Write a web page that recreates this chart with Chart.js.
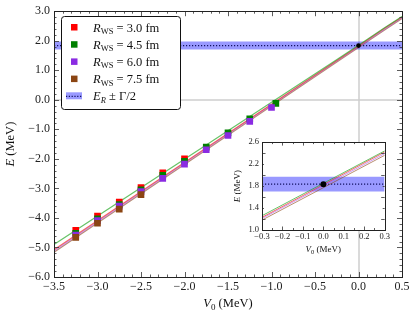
<!DOCTYPE html>
<html><head><meta charset="utf-8">
<script src="https://cdn.jsdelivr.net/npm/chart.js@4/dist/chart.umd.min.js"></script>
<style>
html,body{margin:0;padding:0;background:#fff;}
#wrap{position:relative;width:415px;height:312px;overflow:hidden;}
#main{position:absolute;left:0;top:0;}
#inset{position:absolute;left:226px;top:134px;}
</style></head><body>
<div id="wrap"><canvas id="main" width="415" height="312"></canvas><canvas id="inset" width="166" height="124"></canvas></div>
<script>
// ---------- data ----------
const V_R30 = [-3.25, -3.0, -2.75, -2.5, -2.25, -2.0];
const E_R30 = [-4.42, -3.94, -3.46, -2.97, -2.47, -2.00];
const V_R45 = [-3.25, -3.0, -2.75, -2.5, -2.25, -2.0, -1.75, -1.5, -1.25, -0.95];
const E_R45 = [-4.52, -4.03, -3.55, -3.05, -2.56, -2.08, -1.60, -1.12, -0.64, -0.12];
const V_R60 = [-3.25, -3.0, -2.75, -2.5, -2.25, -2.0, -1.75, -1.5, -1.25, -1.0];
const E_R60 = [-4.58, -4.09, -3.60, -3.11, -2.66, -2.18, -1.69, -1.21, -0.73, -0.26];
const V_R75 = [-3.25, -3.0, -2.75, -2.5];
const E_R75 = [-4.66, -4.18, -3.70, -3.21];
const FIT_V   = [-3.5, -0.3, 0.0, 0.3, 0.5];
const FIT_R30 = [-5.08, 1.23, 1.825, 2.42, 2.80];
const FIT_R45 = [-4.90, 1.26, 1.85, 2.44, 2.82];
const FIT_R60 = [-5.12, 1.21, 1.80, 2.39, 2.78];
const FIT_R75 = [-5.16, 1.18, 1.77, 2.36, 2.75];
const E_RES = 1.835;
const HALF_GAMMA = 0.135;
const V_RES = 0.0;
const R_WS_LABELS = ['3.0', '4.5', '6.0', '7.5'];
const MAIN_X_TICKS = [-3.5, 0.5, 0.5];   // min, max, step
const MAIN_Y_TICKS = [-6.0, 3.0, 1.0];
const INSET_X_TICKS = [-0.3, 0.3, 0.1];
const INSET_Y_TICKS = [1.0, 2.6, 0.4];

// ---------- styles ----------
const SERIF = '"Liberation Serif", "DejaVu Serif", serif';
const F = (size, style) => (style ? style + ' ' : '') + size + 'px ' + SERIF;
const PT_COLORS = ['#ff0000', '#008000', '#8a2be2', '#8b4513'];
const LN_COLORS = ['rgba(240,40,40,0.7)', 'rgba(40,170,40,0.7)', 'rgba(170,90,230,0.6)', 'rgba(139,69,19,0.6)'];
const BAND_COLOR = 'rgba(0,0,255,0.4)';
const DOT_COLOR = '#101060';

const pts = (xs, ys) => xs.map((x, i) => ({x: x, y: ys[i]}));
const fmt = v => (Math.abs(v) < 1e-9 ? 0 : v).toFixed(1).replace('-', '\u2212');

function rich(ctx, x, y, parts, align) {
  let w = 0;
  parts.forEach(p => { ctx.font = p.f; w += ctx.measureText(p.t).width; });
  let cx = align === 'center' ? x - w / 2 : (align === 'right' ? x - w : x);
  ctx.textAlign = 'left';
  ctx.textBaseline = 'alphabetic';
  parts.forEach(p => { ctx.font = p.f; ctx.fillText(p.t, cx, y + (p.dy || 0)); cx += ctx.measureText(p.t).width; });
}

function vals(min, max, step) {
  const n = Math.round((max - min) / step), out = [];
  for (let i = 0; i <= n; i++) out.push(min + i * step);
  return out;
}

function framePlugin(cfg) {
  return {
    id: 'frame_' + cfg.name,
    beforeDatasetsDraw(chart) {
      if (!cfg.whiteBg) return;
      const a = chart.chartArea, c = chart.ctx;
      c.save(); c.fillStyle = '#fff'; c.fillRect(a.left, a.top, a.right - a.left, a.bottom - a.top); c.restore();
    },
    afterDraw(chart) {
      const c = chart.ctx, a = chart.chartArea, xs = chart.scales.x, ys = chart.scales.y;
      c.save();
      c.strokeStyle = '#333'; c.lineWidth = 0.8;
      c.beginPath();
      vals(xs.min, xs.max, cfg.xMinor).forEach(v => {
        const major = Math.abs(Math.round(v / cfg.xMajor) * cfg.xMajor - v) < 1e-6;
        const L = major ? cfg.maj : cfg.min;
        const px = Math.round(xs.getPixelForValue(v)) + 0.5;
        c.moveTo(px, a.bottom); c.lineTo(px, a.bottom - L);
        c.moveTo(px, a.top); c.lineTo(px, a.top + L);
      });
      vals(ys.min, ys.max, cfg.yMinor).forEach(v => {
        const major = Math.abs(Math.round(v / cfg.yMajor) * cfg.yMajor - v) < 1e-6;
        const L = major ? cfg.maj : cfg.min;
        const py = Math.round(ys.getPixelForValue(v)) + 0.5;
        c.moveTo(a.left, py); c.lineTo(a.left + L, py);
        c.moveTo(a.right, py); c.lineTo(a.right - L, py);
      });
      c.stroke();
      c.strokeStyle = '#222'; c.lineWidth = 1;
      c.strokeRect(Math.round(a.left) + 0.5, Math.round(a.top) + 0.5, Math.round(a.right - a.left), Math.round(a.bottom - a.top));
      // axis titles
      c.fillStyle = '#111';
      const cxm = (a.left + a.right) / 2, cym = (a.top + a.bottom) / 2;
      rich(c, cxm, cfg.xTitleY, [
        {t: 'V', f: F(cfg.tSize, 'italic')},
        {t: '0', f: F(cfg.tSize * 0.72), dy: cfg.tSize * 0.22},
        {t: ' (MeV)', f: F(cfg.tSize)}], 'center');
      c.save();
      c.translate(cfg.yTitleX, cym);
      c.rotate(-Math.PI / 2);
      rich(c, 0, cfg.tSize * 0.35, [
        {t: 'E', f: F(cfg.tSize, 'italic')},
        {t: ' (MeV)', f: F(cfg.tSize)}], 'center');
      c.restore();
      if (cfg.legend) drawLegend(c);
      c.restore();
    }
  };
}

function drawLegend(c) {
  const bx = 61.5, by = 16.5, bw = 119, bh = 93, r = 3;
  c.save();
  c.fillStyle = '#fff'; c.strokeStyle = '#111'; c.lineWidth = 1;
  c.beginPath();
  c.moveTo(bx + r, by); c.lineTo(bx + bw - r, by); c.quadraticCurveTo(bx + bw, by, bx + bw, by + r);
  c.lineTo(bx + bw, by + bh - r); c.quadraticCurveTo(bx + bw, by + bh, bx + bw - r, by + bh);
  c.lineTo(bx + r, by + bh); c.quadraticCurveTo(bx, by + bh, bx, by + bh - r);
  c.lineTo(bx, by + r); c.quadraticCurveTo(bx, by, bx + r, by);
  c.closePath(); c.fill(); c.stroke();
  const rows = [27, 44.2, 61.4, 78.6, 95.8];
  c.fillStyle = '#111';
  R_WS_LABELS.forEach((lab, i) => {
    c.fillStyle = PT_COLORS[i];
    c.fillRect(71, rows[i] - 3, 6.5, 6.5);
    c.fillStyle = '#111';
    rich(c, 93, rows[i] + 4.5, [
      {t: 'R', f: F(12.5, 'italic')},
      {t: 'WS', f: F(8.5), dy: 2.5},
      {t: ' = ' + lab + ' fm', f: F(12.5)}], 'left');
  });
  const y = rows[4];
  c.fillStyle = BAND_COLOR;
  c.fillRect(66, y - 3.5, 16, 7);
  c.strokeStyle = DOT_COLOR; c.lineWidth = 1.2; c.setLineDash([1.2, 1.6]);
  c.beginPath(); c.moveTo(66, y + 0.5); c.lineTo(82, y + 0.5); c.stroke();
  c.setLineDash([]);
  c.fillStyle = '#111';
  rich(c, 93, y + 4.5, [
    {t: 'E', f: F(12.5, 'italic')},
    {t: 'R', f: F(8.5, 'italic'), dy: 2.5},
    {t: ' \u00b1 \u0393/2', f: F(12.5)}], 'left');
  c.restore();
}

function buildDatasets(xmin, xmax, withPoints, lineW, dotR) {
  const ds = [];
  ds.push({data: pts([xmin, xmax], [E_RES + HALF_GAMMA, E_RES + HALF_GAMMA]), showLine: true, borderWidth: 0,
           pointRadius: 0, fill: '+1', backgroundColor: BAND_COLOR, borderColor: 'rgba(0,0,0,0)', order: 20});
  ds.push({data: pts([xmin, xmax], [E_RES - HALF_GAMMA, E_RES - HALF_GAMMA]), showLine: true, borderWidth: 0,
           pointRadius: 0, fill: false, borderColor: 'rgba(0,0,0,0)', order: 20});
  ds.push({data: pts([xmin, xmax], [E_RES, E_RES]), showLine: true, borderWidth: 1.3, borderDash: [1.2, 1.8],
           borderColor: DOT_COLOR, pointRadius: 0, fill: false, order: 19});
  const fits = [FIT_R30, FIT_R45, FIT_R60, FIT_R75];
  const lineOrder = [11, 10, 12, 13];
  fits.forEach((f, i) => ds.push({data: pts(FIT_V, f), showLine: true, borderWidth: lineW, borderColor: LN_COLORS[i],
           pointRadius: 0, fill: false, order: lineOrder[i]}));
  if (withPoints) {
    const PV = [V_R30, V_R45, V_R60, V_R75], PE = [E_R30, E_R45, E_R60, E_R75];
    PV.forEach((v, i) => ds.push({data: pts(v, PE[i]), showLine: false, pointStyle: 'rect', pointRadius: 4.7,
           pointBackgroundColor: PT_COLORS[i], pointBorderWidth: 0, pointBorderColor: PT_COLORS[i], order: 5 - i}));
  }
  ds.push({data: [{x: V_RES, y: E_RES}], showLine: false, pointStyle: 'circle', pointRadius: dotR,
           pointBackgroundColor: '#000', pointBorderWidth: 0, order: 0});
  return ds;
}

function scaleOpts(tk, font, pad, fitSize, axis, zeroW) {
  return {
    type: 'linear', min: tk[0], max: tk[1],
    ticks: {stepSize: tk[2], callback: v => fmt(v), font: {family: SERIF, size: font}, color: '#222', padding: pad,
            maxRotation: 0, autoSkip: false, includeBounds: true},
    grid: {drawTicks: false, lineWidth: zeroW,
           color: ctx => (ctx.tick && Math.abs(ctx.tick.value) < 1e-9) ? 'rgba(205,205,205,0.75)' : 'rgba(0,0,0,0)'},
    border: {display: false},
    afterFit: s => { if (axis === 'x') s.height = fitSize; else s.width = fitSize; }
  };
}

Chart.defaults.animation = false;

new Chart(document.getElementById('main'), {
  type: 'line',
  data: {datasets: buildDatasets(MAIN_X_TICKS[0], MAIN_X_TICKS[1], true, 1.2, 2.3)},
  options: {
    responsive: false, animation: false, events: [],
    layout: {padding: {top: 9, right: 13, left: 0, bottom: 0}},
    plugins: {legend: {display: false}, tooltip: {enabled: false}},
    scales: {
      x: scaleOpts(MAIN_X_TICKS, 12, 3, 35, 'x', 2),
      y: scaleOpts(MAIN_Y_TICKS, 12, 4, 54, 'y', 2)
    }
  },
  plugins: [framePlugin({name: 'main', xMajor: 0.5, xMinor: 0.1, yMajor: 1.0, yMinor: 0.2, maj: 5, min: 2.5,
                         tSize: 12.5, xTitleY: 307, yTitleX: 10, legend: true})]
});

new Chart(document.getElementById('inset'), {
  type: 'line',
  data: {datasets: buildDatasets(INSET_X_TICKS[0], INSET_X_TICKS[1], false, 1.0, 3)},
  options: {
    responsive: false, animation: false, events: [],
    layout: {padding: {top: 6, right: 6, left: 0, bottom: 0}},
    plugins: {legend: {display: false}, tooltip: {enabled: false}},
    scales: {
      x: scaleOpts(INSET_X_TICKS, 8.5, 2, 28, 'x', 1.5),
      y: scaleOpts(INSET_Y_TICKS, 8.5, 3, 36, 'y', 0)
    }
  },
  plugins: [framePlugin({name: 'inset', xMajor: 0.1, xMinor: 0.05, yMajor: 0.4, yMinor: 0.2, maj: 3.5, min: 2,
                         tSize: 9, xTitleY: 118, yTitleX: 11, legend: false, whiteBg: true})]
});
</script>
</body></html>
